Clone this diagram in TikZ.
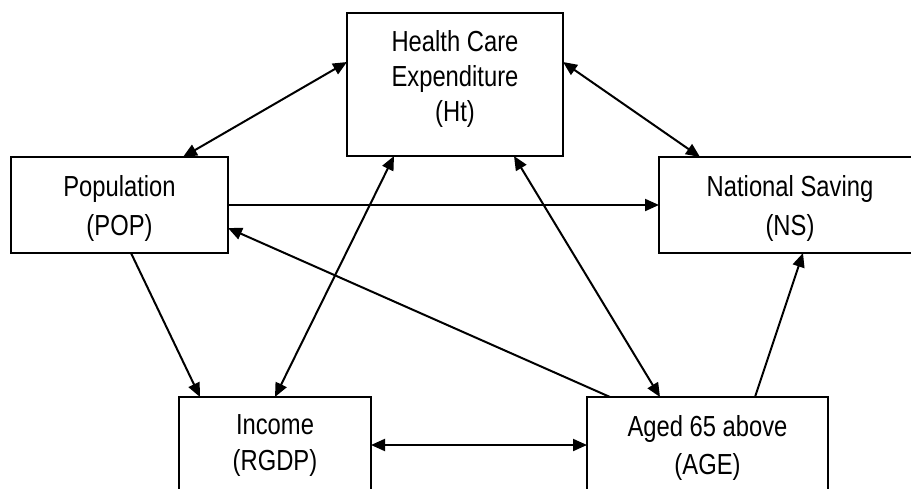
\documentclass[tikz,border=0pt]{standalone}
\usepackage{fontspec}
\setmainfont{Liberation Sans}[FakeStretch=0.82]
\usetikzlibrary{arrows.meta,calc}
\tikzset{
  box/.style={draw, line width=1pt, rectangle, inner sep=0pt, outer sep=0pt, anchor=north west},
  lbl/.style={inner sep=0pt, outer sep=0pt, anchor=north, align=center},
  conn/.style={line width=1pt, -{Triangle[length=7pt,width=6pt]}},
  dconn/.style={line width=1pt, {Triangle[length=7pt,width=6pt]}-{Triangle[length=7pt,width=6pt]}}
}
\begin{document}
\begin{tikzpicture}[x=0.5pt,y=-0.5pt]
\useasboundingbox (0,0) rectangle (911,488);
\clip (0,0) rectangle (911,488);
% boxes
\node[box, minimum width=108pt, minimum height=71.5pt] (ht) at (347,13) {};
\node[box, minimum width=108.5pt, minimum height=48pt] (pop) at (11,157) {};
\node[box, minimum width=131pt, minimum height=48pt] (ns) at (659,157) {};
\node[box, minimum width=96pt, minimum height=56.5pt] (inc) at (179,397) {};
\node[box, minimum width=120.5pt, minimum height=56.5pt] (age) at (587,397) {};
% labels
\node[lbl, font=\fontsize{14.5pt}{17.5pt}\selectfont] (htt) at ($(ht.north)+(0,17)$) {Health Care\\Expenditure\\(Ht)};
\node[lbl, font=\fontsize{14.5pt}{19.5pt}\selectfont] (popt) at ($(pop.north)+(0,18)$) {Population\\(POP)};
\node[lbl, font=\fontsize{14.5pt}{19.5pt}\selectfont] (nst) at ($(ns.north)+(0,18)$) {National Saving\\(NS)};
\node[lbl, font=\fontsize{14.5pt}{18pt}\selectfont] (inct) at ($(inc.north)+(0,18)$) {Income\\(RGDP)};
\node[lbl, font=\fontsize{14.5pt}{19pt}\selectfont] (aget) at ($(age.north)+(0,18)$) {Aged 65 above\\(AGE)};
% connectors
\draw[dconn] ($(ht.north west)+(0,49)$) -- ($(pop.north west)+(172,0)$);
\draw[dconn] ($(ht.north east)+(0,49)$) -- ($(ns.north west)+(41,0)$);
\draw[conn] ($(pop.north east)+(0,48)$) -- ($(ns.north west)+(0,48)$);
\draw[conn] ($(pop.south west)+(120,0)$) -- ($(inc.north west)+(21,0)$);
\draw[dconn] ($(ht.south west)+(47,0)$) -- ($(inc.north west)+(96,0)$);
\draw[dconn] ($(ht.south west)+(167,0)$) -- ($(age.north west)+(73,0)$);
\draw[conn] ($(age.north west)+(23,0)$) -- ($(pop.north east)+(0,71)$);
\draw[conn] ($(age.north west)+(168,0)$) -- ($(ns.south west)+(144,0)$);
\draw[dconn] ($(inc.north east)+(0,48)$) -- ($(age.north west)+(0,48)$);
\end{tikzpicture}
\end{document}
